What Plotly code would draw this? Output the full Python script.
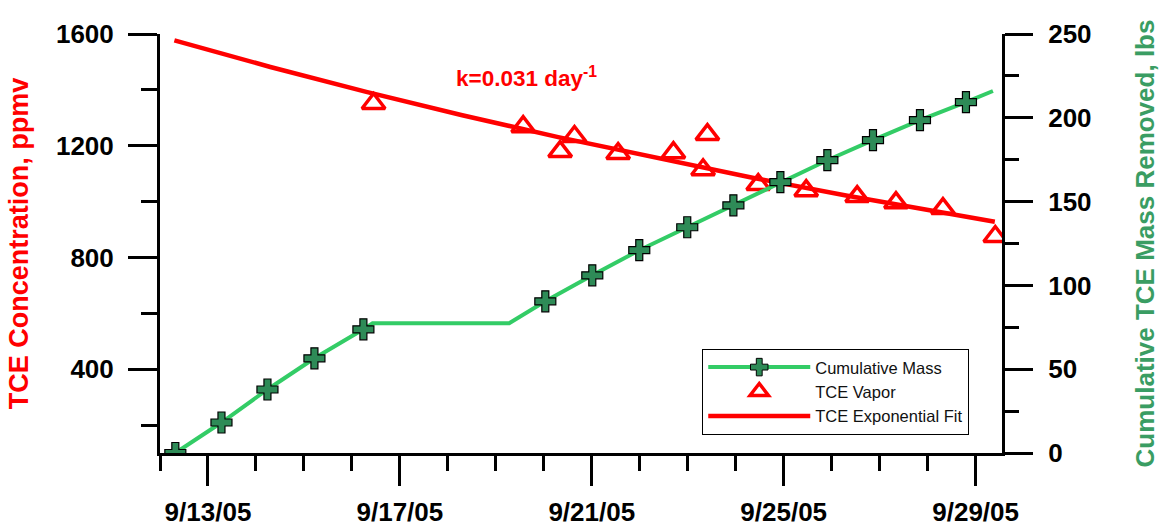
import plotly.graph_objects as go

# ---------------- data ----------------
mass_dates = ["2005-09-12 07:40", "2005-09-13 06:45", "2005-09-14 05:45", "2005-09-15 05:15",
              "2005-09-16 05:45", "2005-09-16 10:20", "2005-09-19 06:40", "2005-09-20 00:45",
              "2005-09-21 00:15", "2005-09-21 23:45", "2005-09-22 23:45", "2005-09-23 22:50",
              "2005-09-24 22:20", "2005-09-25 21:50", "2005-09-26 20:40", "2005-09-27 20:10",
              "2005-09-28 19:10", "2005-09-29 08:40"]
mass_lbs = [0, 18.2, 37.9, 56.5, 73.8, 77.4, 77.4, 90.5, 106.0, 121.0, 134.7, 147.8,
            161.6, 174.7, 186.7, 198.6, 209.4, 216.0]
mass_marked = [1, 1, 1, 1, 1, 0, 0, 1, 1, 1, 1, 1, 1, 1, 1, 1, 1, 0]

vapor_dates = ["2005-09-16 10:50", "2005-09-19 13:40", "2005-09-20 08:10", "2005-09-20 15:20",
               "2005-09-21 13:10", "2005-09-22 16:50", "2005-09-23 07:40", "2005-09-23 09:50",
               "2005-09-24 11:15", "2005-09-25 11:15", "2005-09-26 12:45", "2005-09-27 08:10",
               "2005-09-28 07:40", "2005-09-29 09:50"]
vapor_ppmv = [1351, 1268, 1179, 1233, 1172, 1175, 1114, 1240, 1061, 1039, 1018, 996, 975, 875]

fit_dates = ["2005-09-12 07:12", "2005-09-14 07:12", "2005-09-16 07:12", "2005-09-18 07:12",
             "2005-09-20 07:12", "2005-09-22 07:12", "2005-09-24 07:12", "2005-09-26 07:12",
             "2005-09-28 07:12", "2005-09-29 09:36"]
fit_ppmv = [1577, 1482, 1393, 1309, 1231, 1157, 1087, 1022, 960, 928]

x_tick_vals = ["2005-09-13", "2005-09-17", "2005-09-21", "2005-09-25", "2005-09-29"]
x_tick_text = ["9/13/05", "9/17/05", "9/21/05", "9/25/05", "9/29/05"]
y1_ticks = [400, 800, 1200, 1600]
y1_minor = [200, 600, 1000, 1400]
y2_ticks = [0, 50, 100, 150, 200, 250]
y2_minor = [25, 75, 125, 175, 225]

# ---------------- styles ----------------
RED = "#ff0000"
GREEN_LINE = "#33cc66"
GREEN_MARK = "#2e8b57"
GREEN_TEXT = "#3a9d63"
FONT = "Liberation Sans, Arial, sans-serif"

fig = go.Figure()

fig.add_trace(go.Scatter(
    x=fit_dates, y=fit_ppmv, mode="lines", name="TCE Exponential Fit",
    line=dict(color=RED, width=4.5), legendrank=3, yaxis="y"))

fig.add_trace(go.Scatter(
    x=vapor_dates, y=vapor_ppmv, mode="markers", name="TCE Vapor",
    marker=dict(symbol="triangle-up-open", size=20, color=RED, line=dict(width=3.5, color=RED)),
    legendrank=2, yaxis="y"))

fig.add_trace(go.Scatter(
    x=mass_dates, y=mass_lbs, mode="lines+markers", name="Cumulative Mass",
    line=dict(color=GREEN_LINE, width=4),
    marker=dict(symbol="cross", size=[17.5 if m else 0 for m in mass_marked], color=GREEN_MARK,
                opacity=1,
                line=dict(color="black", width=[1.2 if m else 0 for m in mass_marked])),
    legendrank=1, yaxis="y2"))

fig.add_annotation(
    xref="paper", yref="paper", x=0.349, y=0.897, xanchor="left", yanchor="middle",
    text="k=0.031 day<sup>-1</sup>", showarrow=False,
    font=dict(family=FONT, size=22.5, color=RED, weight="bold"))

axis_font = dict(family=FONT, size=26, color="black", weight="bold")

fig.update_layout(
    width=1160, height=527,
    margin=dict(l=160, r=158, t=34, b=74, autoexpand=False),
    paper_bgcolor="white", plot_bgcolor="white",
    font=dict(family=FONT),
    showlegend=True,
    legend=dict(
        x=0.644, y=0.2485, xanchor="left", yanchor="top",
        bgcolor="white", bordercolor="black", borderwidth=1,
        font=dict(family=FONT, size=16.5, color="#111"),
        itemwidth=102, tracegroupgap=0,
    ),
    xaxis=dict(
        type="date", automargin=False,
        range=["2005-09-12 00:00", "2005-09-29 13:12"],
        tickmode="array", tickvals=x_tick_vals, ticktext=x_tick_text,
        ticks="outside", ticklen=30, tickwidth=3, tickcolor="black",
        ticklabelstandoff=4,
        minor=dict(dtick=86400000, tick0="2005-09-12", ticks="outside",
                   ticklen=15, tickwidth=3, tickcolor="black", showgrid=False),
        showline=True, linewidth=3, linecolor="black",
        showgrid=False, zeroline=False,
        tickfont=axis_font,
    ),
    yaxis=dict(
        range=[100, 1600], automargin=False,
        tickmode="array", tickvals=y1_ticks,
        ticks="outside", ticklen=29, tickwidth=3, tickcolor="black",
        ticklabelstandoff=9,
        minor=dict(tickmode="array", tickvals=y1_minor, ticks="outside",
                   ticklen=16, tickwidth=3, tickcolor="black", showgrid=False),
        showline=True, linewidth=3, linecolor="black",
        showgrid=False, zeroline=False,
        tickfont=axis_font,
        title=dict(text="TCE Concentration, ppmv", standoff=20,
                   font=dict(family=FONT, size=27, color=RED, weight="bold")),
    ),
    yaxis2=dict(
        overlaying="y", side="right", automargin=False,
        range=[0, 250],
        tickmode="array", tickvals=y2_ticks,
        ticks="outside", ticklen=28, tickwidth=3, tickcolor="black",
        ticklabelstandoff=10,
        minor=dict(tickmode="array", tickvals=y2_minor, ticks="outside",
                   ticklen=14, tickwidth=3, tickcolor="black", showgrid=False),
        showline=True, linewidth=3, linecolor="black",
        showgrid=False, zeroline=False,
        tickfont=axis_font,
        title=dict(text="Cumulative TCE Mass Removed, lbs", standoff=47,
                   font=dict(family=FONT, size=26, color=GREEN_TEXT, weight="bold")),
    ),
)

fig.write_html("out.html",
               config={"displayModeBar": False},
               post_script="document.body.style.margin='0px';document.body.style.overflow='hidden';")
